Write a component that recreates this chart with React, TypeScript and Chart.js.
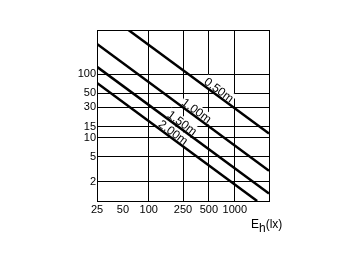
import React, { useEffect, useRef } from "react";
import { Chart, registerables } from "chart.js";

Chart.register(...registerables);

// ---- data ----
const xTickValues = [25, 50, 100, 250, 500, 1000];
const yTickValues = [2, 5, 10, 15, 30, 50, 100];
const xMin = 25;
const xMax = 2500;
const yMin = 1;
const yMax = 500;
const seriesLabels = ["0.50m", "1.00m", "1.50m", "2.00m"];
const line050 = [
  { x: 58, y: 500 },
  { x: 2500, y: 11.6 },
];
const line100 = [
  { x: 25, y: 300 },
  { x: 2500, y: 3 },
];
const line150 = [
  { x: 25, y: 131 },
  { x: 2500, y: 1.31 },
];
const line200 = [
  { x: 25, y: 73 },
  { x: 1820, y: 1 },
];
// x value (lx) at which each series label is anchored
const labelAnchorX = [600, 330, 225, 177];

const FONT_FAMILY = "'Liberation Sans', Arial, sans-serif";

const lineLabelPlugin = {
  id: "lineLabels",
  beforeDatasetsDraw(chart: any) {
    const ctx = chart.ctx;
    const xs = chart.scales.x;
    const ys = chart.scales.y;
    ctx.save();
    ctx.font = `12px ${FONT_FAMILY}`;
    chart.data.datasets.forEach((ds: any, i: number) => {
      const [a, b] = ds.data;
      const ax = labelAnchorX[i];
      const t = (Math.log(ax) - Math.log(a.x)) / (Math.log(b.x) - Math.log(a.x));
      const ay = Math.exp(Math.log(a.y) + t * (Math.log(b.y) - Math.log(a.y)));
      const px = xs.getPixelForValue(ax);
      const py = ys.getPixelForValue(ay);
      const p0x = xs.getPixelForValue(a.x);
      const p0y = ys.getPixelForValue(a.y);
      const p1x = xs.getPixelForValue(b.x);
      const p1y = ys.getPixelForValue(b.y);
      const ang = Math.atan2(p1y - p0y, p1x - p0x);
      const text = seriesLabels[i];
      const w = ctx.measureText(text).width;
      const off = 1.5;
      ctx.save();
      ctx.translate(px, py);
      ctx.rotate(ang);
      ctx.fillStyle = "#fff";
      ctx.fillRect(-w / 2 - 1, -off - 10, w + 2, 11);
      ctx.fillStyle = "#000";
      ctx.textAlign = "center";
      ctx.textBaseline = "alphabetic";
      ctx.fillText(text, 0, -off);
      ctx.restore();
    });
    ctx.restore();
  },
};

const axisTitlePlugin = {
  id: "axisTitle",
  afterDraw(chart: any) {
    const ctx = chart.ctx;
    ctx.save();
    ctx.fillStyle = "#000";
    ctx.textBaseline = "alphabetic";
    ctx.textAlign = "left";
    ctx.font = `12px ${FONT_FAMILY}`;
    let x = 251;
    const base = 228;
    ctx.fillText("E", x, base);
    x += ctx.measureText("E").width;
    ctx.fillText("h", x, base + 3.5);
    x += ctx.measureText("h").width;
    ctx.fillText("(lx)", x, base);
    ctx.restore();
  },
};

export default function App() {
  const ref = useRef<HTMLCanvasElement | null>(null);

  useEffect(() => {
    if (!ref.current) return;
    const font = { family: FONT_FAMILY, size: 11 };
    const lineStyle = {
      borderColor: "#000",
      borderWidth: 2.5,
      pointRadius: 0,
      tension: 0,
      fill: false,
    };
    const chart = new Chart(ref.current, {
      type: "line",
      data: {
        datasets: [
          { label: seriesLabels[0], data: line050, ...lineStyle },
          { label: seriesLabels[1], data: line100, ...lineStyle },
          { label: seriesLabels[2], data: line150, ...lineStyle },
          { label: seriesLabels[3], data: line200, ...lineStyle },
        ],
      },
      options: {
        animation: false,
        responsive: false,
        maintainAspectRatio: false,
        layout: { padding: { left: 0, right: 91, top: 30, bottom: 0 } },
        plugins: {
          legend: { display: false },
          tooltip: { enabled: false },
          title: { display: false },
        },
        scales: {
          x: {
            type: "logarithmic",
            position: "bottom",
            min: xMin,
            max: xMax,
            afterBuildTicks: (s: any) => {
              s.ticks = [...xTickValues, xMax].map((v) => ({ value: v }));
            },
            afterFit: (s: any) => {
              s.height = 61;
            },
            ticks: {
              autoSkip: false,
              maxRotation: 0,
              minRotation: 0,
              color: "#000",
              font,
              padding: 2,
              callback: (v: any) => (xTickValues.includes(Number(v)) ? String(v) : ""),
            },
            grid: {
              drawTicks: false,
              lineWidth: 1,
              color: (c: any) =>
                c.tick && c.tick.value === 50 ? "rgba(0,0,0,0)" : "#000",
            },
            border: { color: "#000", width: 1 },
          },
          y: {
            type: "logarithmic",
            position: "left",
            min: yMin,
            max: yMax,
            afterBuildTicks: (s: any) => {
              s.ticks = [yMin, ...yTickValues, yMax].map((v) => ({ value: v }));
            },
            afterFit: (s: any) => {
              s.width = 97;
            },
            ticks: {
              autoSkip: false,
              color: "#000",
              font,
              padding: 1,
              callback: (v: any) => (yTickValues.includes(Number(v)) ? String(v) : ""),
            },
            grid: { drawTicks: false, lineWidth: 1, color: "#000" },
            border: { color: "#000", width: 1 },
          },
        },
      },
      plugins: [lineLabelPlugin, axisTitlePlugin],
    } as any);
    return () => chart.destroy();
  }, []);

  return (
    <div
      style={{
        position: "absolute",
        left: 0,
        top: 0,
        width: 360,
        height: 262,
        background: "#fff",
      }}
    >
      <canvas ref={ref} width={360} height={262} />
    </div>
  );
}
